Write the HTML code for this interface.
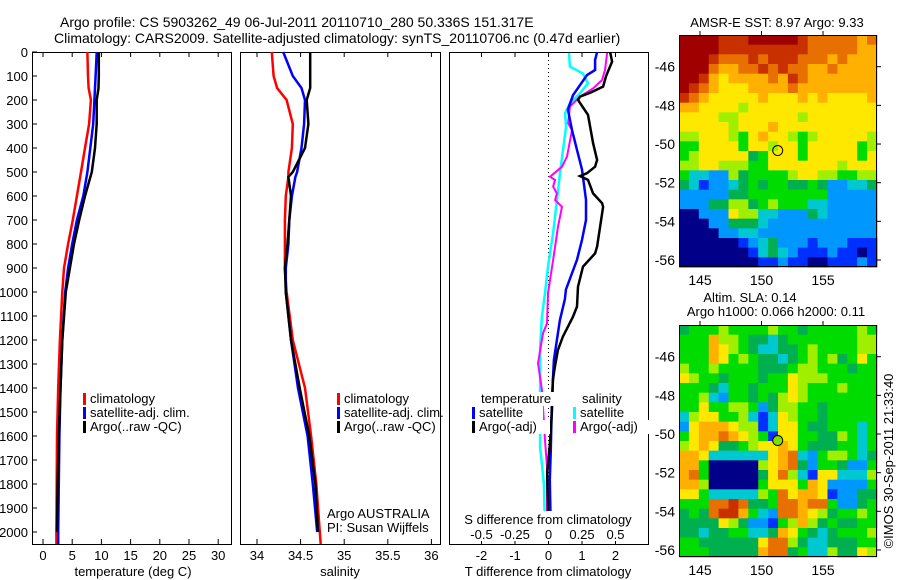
<!DOCTYPE html>
<html><head><meta charset="utf-8">
<style>
body{margin:0;background:#fff;}
svg{display:block;font-family:"Liberation Sans",sans-serif;}
text{font-size:13px;fill:#000;}
</style></head>
<body>
<svg id="fig" width="900" height="580" viewBox="0 0 900 580">
<rect width="900" height="580" fill="#fff"/>
<text x="60" y="27" style="font-size:14px">Argo profile: CS 5903262_49 06-Jul-2011 20110710_280 50.336S 151.317E</text>
<text x="54" y="43" style="font-size:14px">Climatology: CARS2009. Satellite-adjusted climatology: synTS_20110706.nc (0.47d earlier)</text>
<g id="g1"></g>
</svg>
<script>
// ---- data ----
const depthTicks=[0,100,200,300,400,500,600,700,800,900,1000,1100,1200,1300,1400,1500,1600,1700,1800,1900,2000];
const depthT=[0,100,150,200,300,400,500,600,700,800,900,1000,1200,1400,1600,1800,2000,2050];
const tClim=[7.6,7.7,7.8,8.2,7.9,7.2,6.5,5.8,5.1,4.3,3.6,3.3,2.9,2.6,2.4,2.35,2.3,2.3];
const tSat=[9.2,9.0,8.9,8.8,8.6,8.1,7.6,6.9,5.8,5.0,4.3,3.8,3.3,3.0,2.8,2.7,2.6,2.6];
const tArgo=[9.55,9.55,9.5,9.2,9.2,8.9,8.35,7.2,6.2,5.3,4.6,3.9,3.3,3.0,2.7,2.5,2.4,2.4];
const tempTicks=[0,5,10,15,20,25,30];
const depthS=[0,100,150,200,300,400,500,520,600,700,800,900,1000,1200,1400,1600,1800,2000,2050];
const sClim=[34.17,34.19,34.23,34.34,34.41,34.40,34.36,34.36,34.33,34.32,34.32,34.32,34.34,34.41,34.55,34.62,34.68,34.72,34.73];
const sSat=[34.30,34.41,34.51,34.55,34.54,34.51,34.46,34.44,34.40,34.37,34.36,34.33,34.33,34.39,34.47,34.58,34.64,34.69,34.69];
const sArgo=[34.61,34.61,34.61,34.57,34.59,34.55,34.41,34.36,34.39,34.37,34.35,34.32,34.33,34.39,34.49,34.60,34.67,34.70,34.70];
const salTicks=[34,34.5,35,35.5,36];
const salTickLabels=["34","34.5","35","35.5","36"];
const dBlueD=[0,33,75,96,180,240,325,408,490,616,700,783,866,990,1030,1117,1200,1283,1367,1450,1658,1783,2000];
const dBlueT=[1.45,1.39,1.39,1.15,0.73,0.58,0.70,0.85,1.00,1.12,1.12,1.00,0.85,0.52,0.49,0.34,0.25,0.16,0.13,0.10,0.07,0.04,0.07];
const dBlackD=[0,40,100,144,170,186,200,262,380,450,478,505,517,533,589,630,645,728,811,839,894,978,1061,1103,1186,1242,1311,1367,1500,1640,1750,1930];
const dBlackT=[1.84,1.90,1.72,1.63,1.24,0.94,0.88,1.18,1.33,1.45,1.39,1.15,0.94,1.18,1.33,1.60,1.63,1.54,1.45,1.39,1.03,0.88,0.85,0.73,0.43,0.28,0.19,0.13,0.10,0.04,-0.04,-0.01];
const dCyanD=[4,61,89,130,172,214,255,311,408,505,617,755,894,1005,1103,1228,1367,1505,1645,1800,2000];
const dCyanS=[0.153,0.160,0.257,0.295,0.235,0.160,0.123,0.131,0.108,0.086,0.063,0.034,-0.004,-0.026,-0.049,-0.063,-0.063,-0.063,-0.063,-0.034,-0.026];
const dMagD=[4,75,117,152,186,228,297,325,436,478,520,533,561,589,617,645,728,867,1005,1131,1172,1297,1408,1617,1728,2000];
const dMagS=[0.437,0.422,0.399,0.332,0.235,0.160,0.146,0.175,0.138,0.101,0.011,0.049,0.034,0.063,0.049,0.101,0.071,0.034,-0.004,-0.011,-0.041,-0.078,-0.049,-0.026,-0.011,-0.011];
const tDiffTicks=[-2,-1,0,1,2];
const sDiffTicks=[-0.5,-0.25,0,0.25,0.5];
const sDiffLabels=["-0.5","-0.25","0","0.25","0.5"];
const lonTicks=[145,150,155];
const latTicks=[-46,-48,-50,-52,-54,-56];
const argoLon=151.317, argoLat=-50.336;
const sstGrid=[
"bbbbaaabbbbba9999989","bbbbaaaaaaaaa9999988","bbba999a9aaa99989888","bbb98899a9a998898888",
"bba87888898a98888888","ba987778888988888888","a9877777877787877778","88777767777777777777",
"77776677777767777777","77777677787777777777","66777657877656777776","55777757767757777756",
"56777774577757777757","66776665577777776777","53322645555677665566","43122345455445422334",
"22222445555555522222","22244664565553322222","00222766332224322222","00022444322222222222",
"00002233222222222222","00000012342221222111","00000001343211121101","00000000112110011121"];
const slaGrid=[
"45556555565545555565","55586654434555555566","55587654334456555566","55587565443456564575",
"65565555444566555455","76554555455766655555","55543554555765556555","55632554546765555555",
"55755665246655455555","36775563137655455555","27888766137754455535","57889876517755446535",
"67874456778754445535","88733333378932566534","88500000678942554225","89500000479631773336",
"88600000577758722225","77533333659788712244","55599a94459989952245","4549aa85329987645565",
"44447642215686454455","44344553348754345556","55444444799643344455","55544444899453364476"];
// ---- helpers ----
const NS="http://www.w3.org/2000/svg";
const G=document.getElementById('g1');
function el(tag,attrs,parent){const e=document.createElementNS(NS,tag);for(const k in attrs)e.setAttribute(k,attrs[k]);(parent||G).appendChild(e);return e;}
function txt(x,y,s,anchor,parent,size){const t=el('text',{x:x,y:y,'text-anchor':anchor||'start'},parent);if(size)t.style.fontSize=size+'px';t.textContent=s;return t;}
const Y0=52,PB=544;
const yD=d=>Y0+d*0.24;
const xT=t=>43+t*5.84;
const xS=s=>257+(s-34)*87.2;
const xDT=v=>548.5+v*33.5;
const xDS=v=>548.5+v*134;
function line(ds,vs,xf,color,w,name){
  let p='';for(let i=0;i<ds.length;i++){p+=(i?'L':'M')+xf(vs[i]).toFixed(1)+','+yD(ds[i]).toFixed(1);}
  const e=el('path',{d:p,fill:'none',stroke:color,'stroke-width':w,'stroke-linejoin':'miter'});
  
  
  return e;
}
function frame(x0,x1,name){
  const r=el('rect',{x:x0+0.5,y:Y0+0.5,width:x1-x0,height:PB-Y0,fill:'none',stroke:'#000','stroke-width':1});
  
  
}
function xticks(vals,labels,xf,ly){
  vals.forEach((v,i)=>{const x=xf(v);
    el('line',{x1:x,x2:x,y1:Y0,y2:Y0+5,stroke:'#000'});
    el('line',{x1:x,x2:x,y1:PB,y2:PB-5,stroke:'#000'});
    if(labels){const t=txt(x,ly,labels[i],'middle');
      
      }
  });
}
// ---- panel 1 temperature ----
frame(32,231,'temperature-panel');
depthTicks.forEach(d=>{const y=yD(d);el('line',{x1:32,x2:37,y1:y,y2:y,stroke:'#000'});
  const t=txt(28,y+5,String(d),'end');
  
  });
xticks(tempTicks,tempTicks.map(String),xT,560);
const xl1=txt(133,576,'temperature (deg C)','middle');


line(depthT,tClim,xT,'#f00',2.5,'temp-climatology-line');
line(depthT,tSat,xT,'#00f',2.5,'temp-satellite-line');
line(depthT.slice(0,17),tArgo.slice(0,17),xT,'#000',2.5,'temp-argo-line');
// ---- panel 2 salinity ----
frame(240,440,'salinity-panel');
xticks(salTicks,salTickLabels,xS,560);
const xl2=txt(340,576,'salinity','middle');


line(depthS,sClim,xS,'#f00',2.5,'sal-climatology-line');
line(depthS.slice(0,18),sSat.slice(0,18),xS,'#00f',2.5,'sal-satellite-line');
line(depthS.slice(0,18),sArgo.slice(0,18),xS,'#000',2.5,'sal-argo-line');
// ---- panel 3 differences ----
frame(449,648,'difference-panel');
xticks(tDiffTicks,tDiffTicks.map(String),xDT,560);
el('line',{x1:xDT(0),x2:xDT(0),y1:Y0,y2:PB,stroke:'#000','stroke-dasharray':'1,3'});
line(dCyanD,dCyanS,xDS,'#0ff',2.5,'sal-diff-satellite-line');
line(dMagD,dMagS,xDS,'#f0f',2,'sal-diff-argo-line');
line(dBlueD,dBlueT,xDT,'#00f',2.5,'temp-diff-satellite-line');
line(dBlackD,dBlackT,xDT,'#000',2.5,'temp-diff-argo-line');
const xl3=txt(548,576,'T difference from climatology','middle');


el('rect',{x:466,y:511,width:164,height:30,fill:'#fff'});
const sdt=txt(548,524,'S difference from climatology','middle');


sDiffTicks.forEach((v,i)=>{const t=txt(xDS(v),539,sDiffLabels[i],'middle');
  
  });
// ---- legends ----
function legend(x,y,color,label,name,bg){
  const g=el('g',{});
  
  
  if(bg){const w=label.length*6.9+4;el('rect',{x:x+5,y:y-11,width:w,height:14,fill:'#fff'},g);}
  if(color)el('rect',{x:x,y:y-10,width:3,height:12,fill:color},g);
  txt(x+7,y,label,'start',g);
}
legend(83,403,'#f00','climatology','legend-temp-climatology');
legend(83,417,'#00f','satellite-adj. clim.','legend-temp-satellite');
legend(83,431,'#000','Argo(..raw -QC)','legend-temp-argo');
legend(337,403,'#f00','climatology','legend-sal-climatology');
legend(337,417,'#00f','satellite-adj. clim.','legend-sal-satellite');
legend(337,431,'#000','Argo(..raw -QC)','legend-sal-argo');
legend(474,403,null,'temperature','legend-temperature-header',true);
legend(472,417,'#00f','satellite','legend-tdiff-satellite',true);
legend(472,431,'#000','Argo(-adj)','legend-tdiff-argo',true);
legend(575,403,null,'salinity','legend-salinity-header',true);
legend(573,417,'#0ff','satellite','legend-sdiff-satellite',true);
legend(573,431,'#f0f','Argo(-adj)','legend-sdiff-argo',true);
const au=txt(327,518,'Argo AUSTRALIA');
const pi=txt(327,532,'PI: Susan Wijffels');
// ---- maps ----
const pal={'0':'#000088','1':'#0030ff','2':'#0098ff','3':'#00c8d0','4':'#00b050','5':'#00dc00','6':'#a0ee00','7':'#ffe800','8':'#ffb000','9':'#e87000','a':'#c83000','b':'#a00000'};
function map(top,grid,name,circleFill){
  const L=679,R=877,B=top+232;
  const lonX=lo=>700+(lo-145)*12.3;
  const latY=la=>top+31.7+(-46-la)*19.33;
  const g=el('g',{});
  
  
  const rows=grid.length,cols=grid[0].length,cw=(R-L)/cols,ch=(B-top)/rows;
  for(let r=0;r<rows;r++)for(let c=0;c<cols;c++){
    el('rect',{x:(L+c*cw).toFixed(2),y:(top+r*ch).toFixed(2),width:(cw+0.4).toFixed(2),height:(ch+0.4).toFixed(2),fill:pal[grid[r][c]]},g);
  }
  el('rect',{x:L+0.5,y:top+0.5,width:R-L-1,height:B-top-1,fill:'none',stroke:'#000'},g);
  lonTicks.forEach(lo=>{const x=lonX(lo);
    el('line',{x1:x,x2:x,y1:top,y2:top-4,stroke:'#000'},g);
    const t=txt(x,B+18,String(lo),'middle',g,14);
    
    });
  latTicks.forEach(la=>{const y=latY(la);
    el('line',{x1:R,x2:R+4,y1:y,y2:y,stroke:'#000'},g);
    const t=txt(675,y+5,String(la),'end',g,14);
    
    });
  const c=el('circle',{cx:lonX(argoLon),cy:latY(argoLat),r:5,fill:circleFill,stroke:'#000'},g);
  
  
}
map(35,sstGrid,'sst-map','none');
map(325,slaGrid,'sla-map','#80e000');
const t1=txt(777,27,'AMSR-E SST: 8.97 Argo: 9.33','middle');
const t2=txt(750,302,'Altim. SLA: 0.14','middle');
const t3=txt(776,316,'Argo h1000: 0.066 h2000: 0.11','middle');
const cr=txt(0,0,'©IMOS 30-Sep-2011 21:33:40','middle');
cr.setAttribute('transform','translate(893,461) rotate(-90)');


</script>
</body></html>
